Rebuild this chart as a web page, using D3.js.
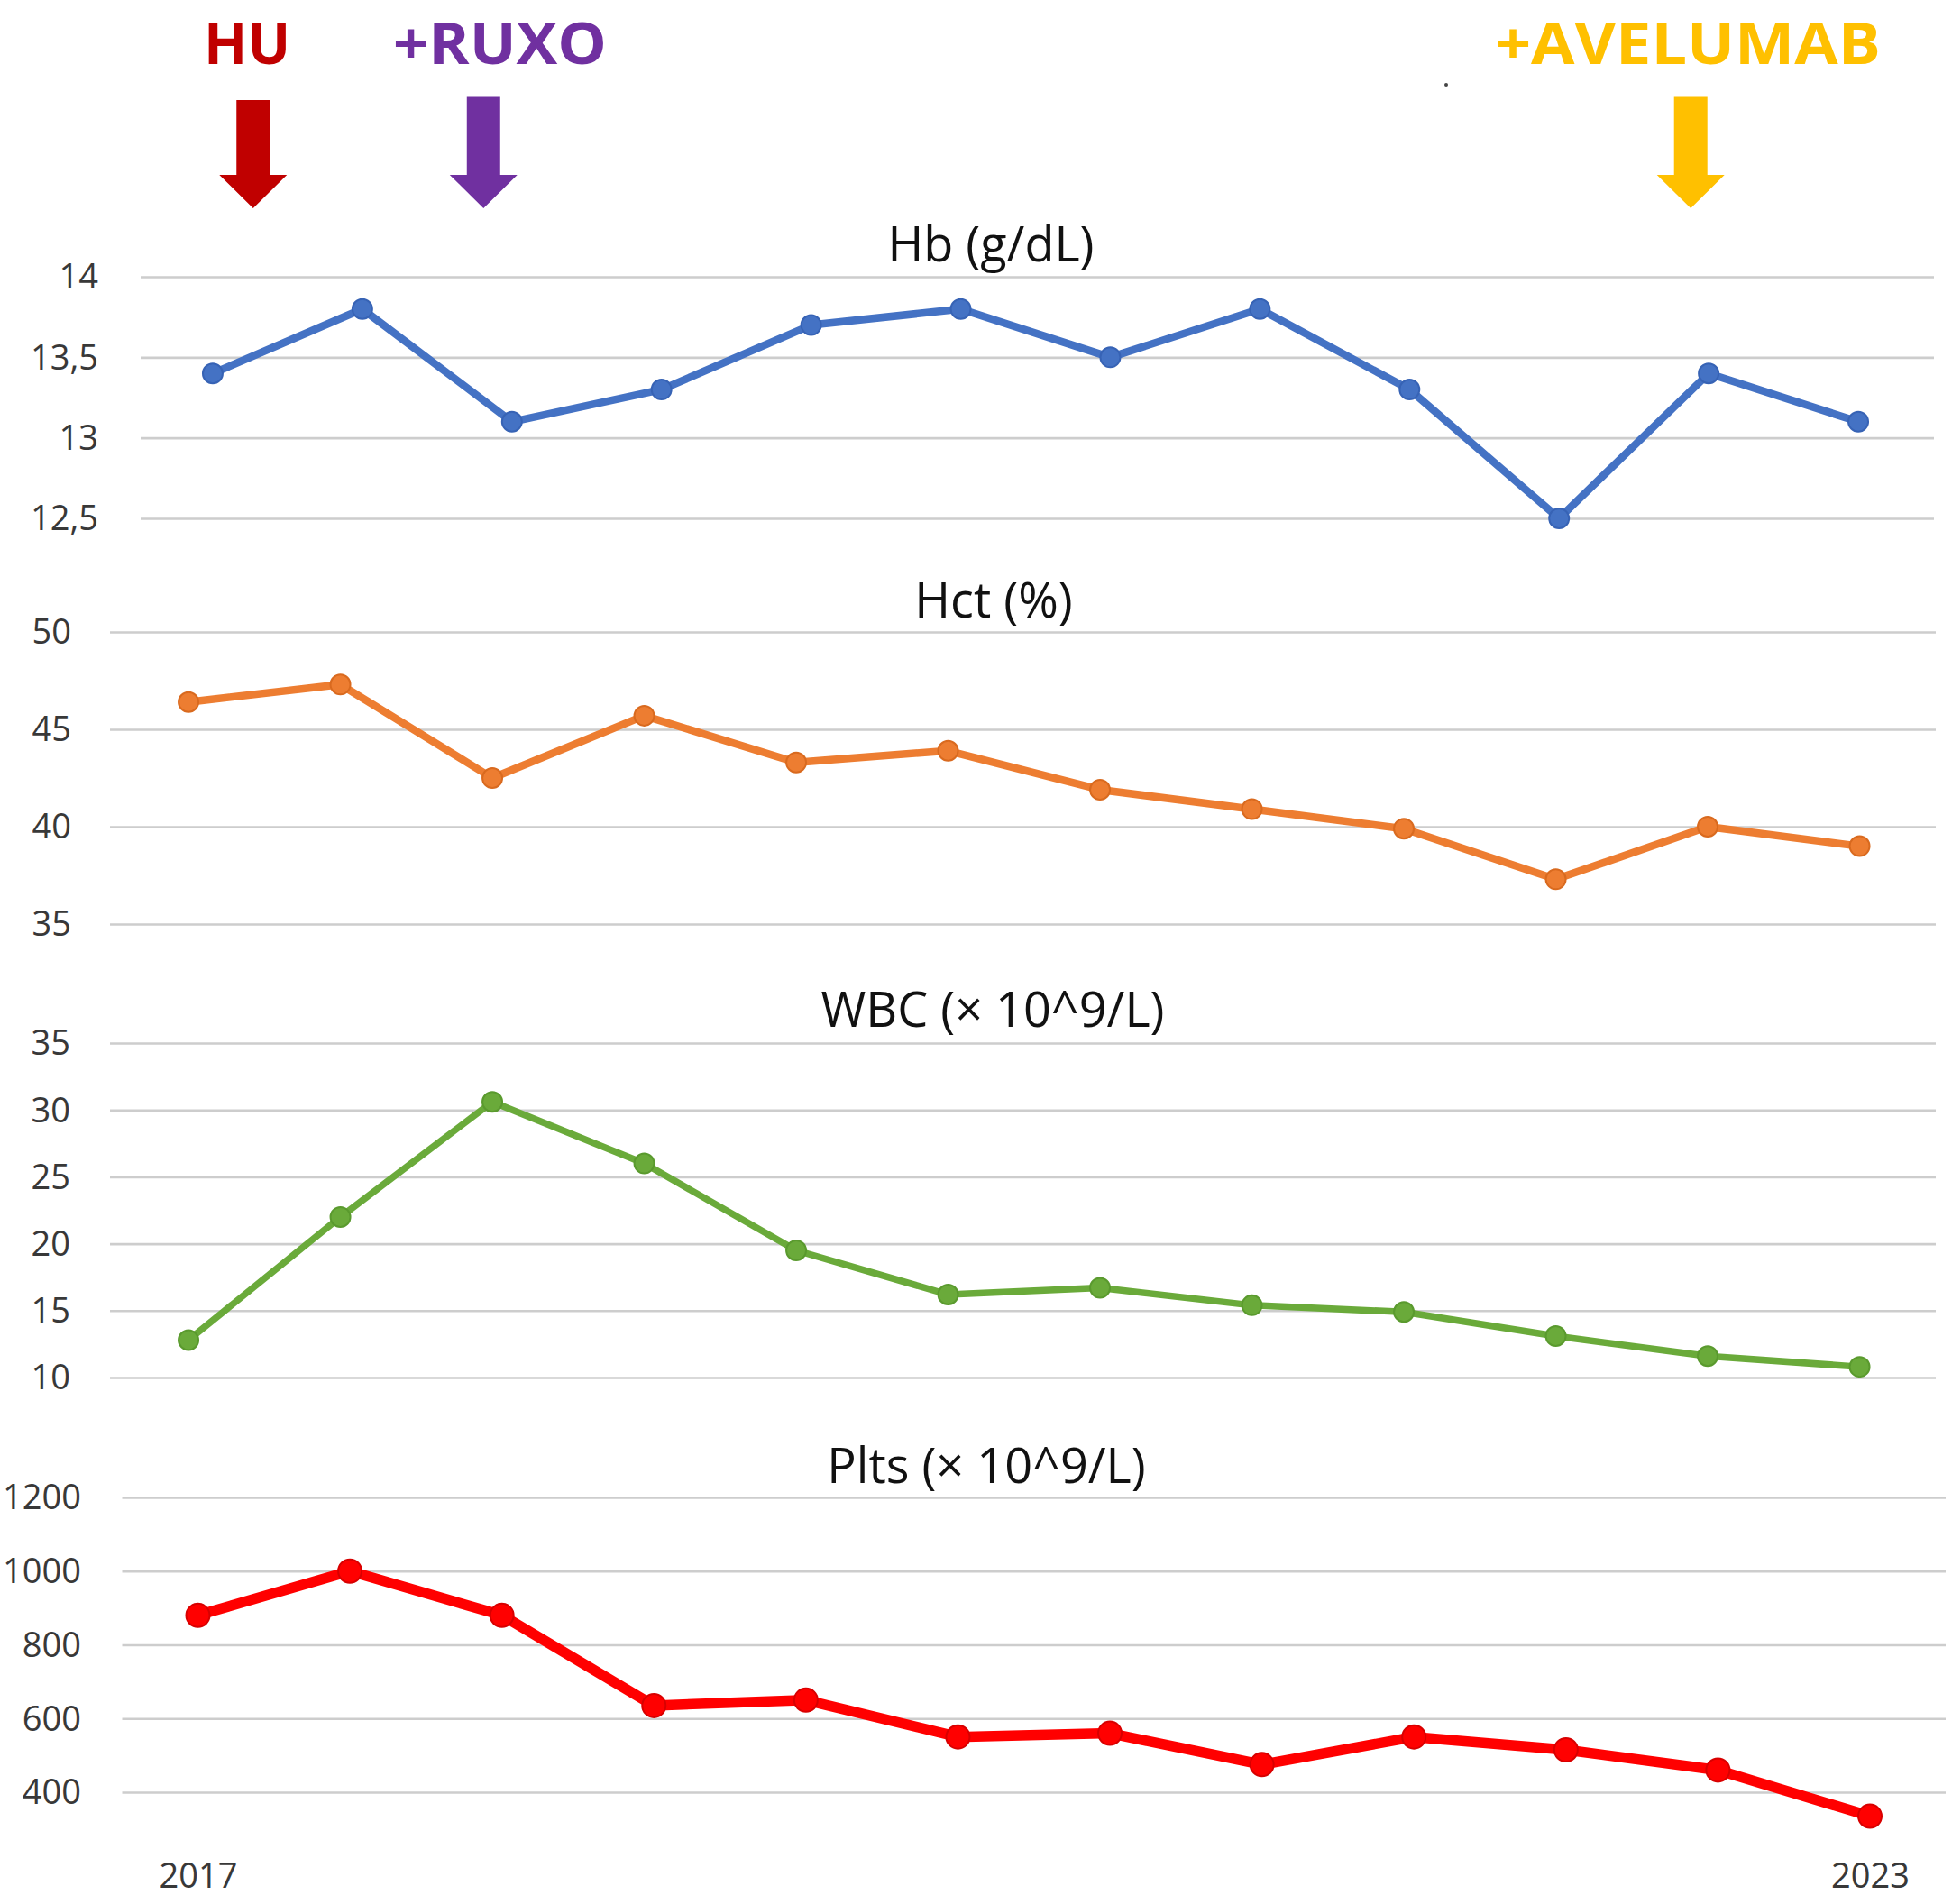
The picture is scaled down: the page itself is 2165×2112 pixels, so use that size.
<!DOCTYPE html>
<html>
<head>
<meta charset="utf-8">
<script src="https://cdn.jsdelivr.net/npm/d3@7"></script>
<style>
  html, body { margin: 0; padding: 0; background: #ffffff; }
  svg { display: block; }
  text { font-family: "Open Sans", "DejaVu Sans", sans-serif; }
</style>
</head>
<body>
<div id="chart"></div>
<script>
// ---------------- DATA ----------------
const timepoints = ["T1","T2","T3","T4","T5","T6","T7","T8","T9","T10","T11","T12"];
const yearLabels = ["2017", "2023"];            // shown under first and last timepoint

const hbValues   = [13.4, 13.8, 13.1, 13.3, 13.7, 13.8, 13.5, 13.8, 13.3, 12.5, 13.4, 13.1];
const hctValues  = [46.4, 47.3, 42.5, 45.7, 43.3, 43.9, 41.9, 40.9, 39.9, 37.3, 40.0, 39.0];
const wbcValues  = [12.8, 22.0, 30.6, 26.0, 19.5, 16.2, 16.7, 15.4, 14.9, 13.1, 11.6, 10.8];
const pltsValues = [880, 1000, 880, 635, 650, 550, 560, 475, 550, 515, 460, 335];

const hbTicks   = [12.5, 13, 13.5, 14];
const hctTicks  = [35, 40, 45, 50];
const wbcTicks  = [10, 15, 20, 25, 30, 35];
const pltsTicks = [400, 600, 800, 1000, 1200];

const panelTitles = ["Hb (g/dL)", "Hct (%)", "WBC (\u00d7 10^9/L)", "Plts (\u00d7 10^9/L)"];

// treatment annotations (position in timepoint-index units)
const treatLabels = ["HU", "+RUXO", "+AVELUMAB"];
const treatArrowAt = [0.27, 1.81, 9.88];
const treatTextAt  = [0.23, 1.92, 9.86];

// ---------------- LAYOUT / STYLE ----------------
const W = 2165, H = 2112;
const svg = d3.select("#chart").append("svg")
  .attr("width", W).attr("height", H)
  .attr("viewBox", `0 0 ${W} ${H}`);
svg.append("rect").attr("width", W).attr("height", H).attr("fill", "#ffffff");

const commaLocale = d3.formatLocale({decimal: ",", thousands: ".", grouping: [3], currency: ["", ""]});

const panels = [
  { title: panelTitles[0], values: hbValues, ticks: hbTicks, fmt: commaLocale.format(".1~f"),
    color: "#4472C4", stroke: "#3763b5", dom: [12.5, 14], yr: [575, 307],
    xr: [153, 2144], grid: [156, 2145], labelRight: 109, titleX: 1099, titleY: 290, lw: 8.5, r: 11 },
  { title: panelTitles[1], values: hctValues, ticks: hctTicks, fmt: d3.format("d"),
    color: "#ED7D31", stroke: "#d96a1f", dom: [35, 50], yr: [1025, 701],
    xr: [124.8, 2146.8], grid: [122, 2147], labelRight: 79, titleX: 1102, titleY: 685, lw: 8.5, r: 11 },
  { title: panelTitles[2], values: wbcValues, ticks: wbcTicks, fmt: d3.format("d"),
    color: "#6AAA3A", stroke: "#5a9a2e", dom: [10, 35], yr: [1528, 1157],
    xr: [124.8, 2146.8], grid: [122, 2147], labelRight: 78, titleX: 1101, titleY: 1139, lw: 7.5, r: 11 },
  { title: panelTitles[3], values: pltsValues, ticks: pltsTicks, fmt: d3.format("d"),
    color: "#FF0000", stroke: "#d80000", dom: [400, 1200], yr: [1988, 1661],
    xr: [135.2, 2158.3], grid: [135.5, 2158], labelRight: 90, titleX: 1094, titleY: 1645, lw: 11.5, r: 13 }
];

const scales = [];

panels.forEach((p, pi) => {
  const x = d3.scaleLinear().domain([-0.5, timepoints.length - 0.5]).range(p.xr);
  const y = d3.scaleLinear().domain(p.dom).range(p.yr);
  scales.push({x, y});
  const g = svg.append("g").attr("class", "panel");

  // gridlines
  const grid = g.append("g")
    .attr("transform", `translate(${p.grid[1]},0)`)
    .call(d3.axisLeft(y).tickValues(p.ticks).tickSize(p.grid[1] - p.grid[0]).tickFormat(""));
  grid.select(".domain").remove();
  grid.selectAll(".tick line").attr("stroke", "#cdcdcd").attr("stroke-width", 2.6);

  // tick labels
  const lab = g.append("g")
    .attr("transform", `translate(${p.labelRight},0)`)
    .call(d3.axisLeft(y).tickValues(p.ticks).tickSize(0).tickPadding(0).tickFormat(p.fmt));
  lab.select(".domain").remove();
  lab.selectAll(".tick text")
    .attr("font-size", 38).attr("fill", "#383838")
    .attr("font-family", "'Open Sans', sans-serif")
    .attr("dy", "0.34em");

  // title
  g.append("text")
    .attr("x", p.titleX).attr("y", p.titleY)
    .attr("text-anchor", "middle")
    .attr("font-size", 54).attr("fill", "#111111")
    .text(p.title);

  // line
  const line = d3.line().x((d, i) => x(i)).y(d => y(d));
  g.append("path")
    .datum(p.values)
    .attr("d", line)
    .attr("fill", "none")
    .attr("stroke", p.color)
    .attr("stroke-width", p.lw)
    .attr("stroke-linejoin", "round")
    .attr("stroke-linecap", "round");

  // markers
  g.selectAll("circle.m")
    .data(p.values)
    .join("circle")
    .attr("class", "m")
    .attr("cx", (d, i) => x(i))
    .attr("cy", d => y(d))
    .attr("r", p.r)
    .attr("fill", p.color)
    .attr("stroke", p.stroke)
    .attr("stroke-width", 2);
});

// x-axis year labels under the platelet panel
{
  const {x} = scales[3];
  const xa = svg.append("g")
    .attr("transform", `translate(0,2094)`)
    .call(d3.axisBottom(x).tickValues([0, timepoints.length - 1]).tickSize(0).tickPadding(0)
      .tickFormat((d, i) => yearLabels[i]));
  xa.select(".domain").remove();
  xa.selectAll(".tick text")
    .attr("font-size", 38).attr("fill", "#383838")
    .attr("font-family", "'Open Sans', sans-serif")
    .attr("dy", 0);
}

// treatment annotations (use the Hb panel x scale)
{
  const {x} = scales[0];
  const colors = ["#C00000", "#7030A0", "#FFC000"];
  const textLens = [96, 237, 428];
  const ann = svg.append("g").attr("class", "annotations");

  ann.selectAll("text.treat")
    .data(treatLabels)
    .join("text")
    .attr("class", "treat")
    .attr("x", (d, i) => x(treatTextAt[i]))
    .attr("y", 71)
    .attr("text-anchor", "middle")
    .attr("font-size", 64)
    .attr("font-weight", 700)
    .attr("fill", (d, i) => colors[i])
    .attr("textLength", (d, i) => textLens[i])
    .attr("lengthAdjust", "spacingAndGlyphs")
    .text(d => d);

  const arrowPath = (cx, top) => {
    const sw = 18.5, hw = 37.5, headY = 194, tip = 231;
    return `M${cx - sw},${top} L${cx + sw},${top} L${cx + sw},${headY} L${cx + hw},${headY} ` +
           `L${cx},${tip} L${cx - hw},${headY} L${cx - sw},${headY} Z`;
  };
  const tops = [111, 107.5, 107.5];
  ann.selectAll("path.arrow")
    .data(treatArrowAt)
    .join("path")
    .attr("class", "arrow")
    .attr("d", (d, i) => arrowPath(x(d), tops[i]))
    .attr("fill", (d, i) => colors[i]);

  // small speck seen in the original
  ann.append("circle").attr("cx", 1604).attr("cy", 94).attr("r", 2).attr("fill", "#444");
}
</script>
</body>
</html>
